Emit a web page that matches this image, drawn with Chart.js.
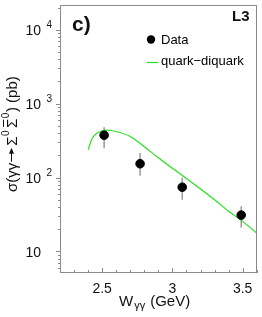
<!DOCTYPE html>
<html>
<head>
<meta charset="utf-8">
<script src="https://cdn.jsdelivr.net/npm/chart.js@4"></script>
<style>
  html, body { margin: 0; padding: 0; background: #fff; }
  canvas { display: block; }
</style>
</head>
<body>
<canvas id="sigmaChart" width="262" height="317"></canvas>
<script>
// measured points (W in GeV, sigma in pb)
const dataW = [2.514, 2.77, 3.07, 3.49];
const dataSigma = [374, 154, 74, 31];
const errLow = [250, 106, 50, 21];
const errHigh = [480, 215, 100, 41];

// quark-diquark prediction
const curveW = [2.40, 2.43, 2.47, 2.53, 2.60, 2.70, 2.80, 2.90, 3.00, 3.10, 3.20, 3.30, 3.40, 3.50, 3.60];
const curveSigma = [238, 340, 405, 440, 420, 360, 262, 185, 134, 97, 70, 50, 35, 25.5, 17.7];

// axis ticks
const xLabels = [2.5, 3, 3.5];
const yDecades = [1, 2, 3, 4];

const FONT = '"Liberation Sans", Arial, Helvetica, sans-serif';
const GREY = '#8a8a8a';
const GREEN = '#22e01e';

function font(size, bold) {
    return (bold ? 'bold ' : '') + size + 'px ' + FONT;
}

const decor = {
    id: 'decor',
    beforeDatasetsDraw(chart) {
        const ctx = chart.ctx;
        const x = chart.scales.x, y = chart.scales.y;
        ctx.save();
        ctx.strokeStyle = '#9a9a9a';
        ctx.lineWidth = 1.5;
        dataW.forEach((w, i) => {
            const px = x.getPixelForValue(w);
            ctx.beginPath();
            ctx.moveTo(px, y.getPixelForValue(errLow[i]));
            ctx.lineTo(px, y.getPixelForValue(errHigh[i]));
            ctx.stroke();
        });
        ctx.restore();
    },
    afterDraw(chart) {
        const ctx = chart.ctx;
        const a = chart.chartArea;
        const x = chart.scales.x, y = chart.scales.y;
        ctx.save();

        // frame
        ctx.strokeStyle = GREY;
        ctx.lineWidth = 1;
        ctx.strokeRect(Math.round(a.left) + 0.5, Math.round(a.top) + 0.5,
            Math.round(a.right - a.left) - 1, Math.round(a.bottom - a.top) - 1);

        // y ticks (outside), minor every 1..9 of each decade
        ctx.beginPath();
        for (let d = 0; d <= 4; d++) {
            for (let m = 1; m <= 9; m++) {
                const v = m * Math.pow(10, d);
                if (v < y.min || v > y.max) continue;
                const py = Math.round(y.getPixelForValue(v)) + 0.5;
                const len = m === 1 ? 4 : 2;
                ctx.moveTo(a.left - len, py);
                ctx.lineTo(a.left, py);
            }
        }
        // x ticks (inside)
        for (let k = 22; k <= 36; k++) {
            const v = k / 10;
            const px = Math.round(x.getPixelForValue(v)) + 0.5;
            const len = k % 5 === 0 ? 5 : 3;
            ctx.moveTo(px, a.bottom);
            ctx.lineTo(px, a.bottom - len);
        }
        ctx.stroke();

        // tick labels
        ctx.fillStyle = '#111';
        ctx.textBaseline = 'alphabetic';
        ctx.font = font(14);
        ctx.textAlign = 'center';
        xLabels.forEach(v => {
            ctx.fillText(String(v), x.getPixelForValue(v), 293);
        });
        yDecades.forEach(d => {
            const py = y.getPixelForValue(Math.pow(10, d));
            ctx.font = font(14);
            ctx.textAlign = 'right';
            ctx.fillText('10', 41, py + 5.5);
            if (d > 1) {
                ctx.font = font(10);
                ctx.textAlign = 'left';
                ctx.fillText(String(d), 46.5, py - 1.5);
            }
        });

        // x axis title: W_gamma gamma (GeV)
        ctx.textAlign = 'left';
        ctx.font = font(15);
        let cx = 119;
        ctx.fillText('W', cx, 306);
        cx += ctx.measureText('W').width + 1;
        ctx.font = font(11);
        ctx.fillText('γγ', cx, 309);
        cx += ctx.measureText('γγ').width + 5;
        ctx.font = font(15);
        ctx.fillText('(GeV)', cx, 306);

        // y axis title, rotated
        ctx.save();
        ctx.translate(17, 192);
        ctx.rotate(-Math.PI / 2);
        ctx.font = font(15);
        let tx = 0;
        ctx.fillText('σ(γγ', tx, 0);
        tx += ctx.measureText('σ(γγ').width + 1;
        // arrow
        ctx.lineWidth = 1;
        ctx.strokeStyle = '#111';
        ctx.beginPath();
        ctx.moveTo(tx, -5.5);
        ctx.lineTo(tx + 10, -5.5);
        ctx.stroke();
        ctx.beginPath();
        ctx.moveTo(tx + 14, -5.5);
        ctx.lineTo(tx + 8, -8);
        ctx.lineTo(tx + 8, -3);
        ctx.closePath();
        ctx.fill();
        tx += 16;
        ctx.fillText('Σ', tx, 0);
        tx += ctx.measureText('Σ').width;
        ctx.font = font(10);
        ctx.fillText('0', tx + 0.5, -8);
        tx += ctx.measureText('0').width + 3;
        ctx.font = font(15);
        const sw = ctx.measureText('Σ').width;
        ctx.fillText('Σ', tx, 0);
        ctx.beginPath();
        ctx.moveTo(tx + 1, -13.5);
        ctx.lineTo(tx + sw - 1, -13.5);
        ctx.stroke();
        tx += sw;
        ctx.font = font(10);
        ctx.fillText('0', tx + 0.5, -8);
        tx += ctx.measureText('0').width + 1;
        ctx.font = font(15);
        ctx.fillText(') (pb)', tx, 0);
        ctx.restore();

        // panel labels
        ctx.font = font(21, true);
        ctx.fillText('c)', 72, 31);
        ctx.font = font(15, true);
        ctx.fillText('L3', 232, 21);

        // legend
        ctx.fillStyle = '#000';
        ctx.beginPath();
        ctx.arc(151, 39.5, 4.2, 0, Math.PI * 2);
        ctx.fill();
        ctx.font = font(13);
        ctx.fillText('Data', 161, 44);
        ctx.strokeStyle = GREEN;
        ctx.lineWidth = 1.2;
        ctx.beginPath();
        ctx.moveTo(147, 62.5);
        ctx.lineTo(158.5, 62.5);
        ctx.stroke();
        ctx.fillText('quark\u2212diquark', 161, 64.5);

        ctx.restore();
    }
};

new Chart(document.getElementById('sigmaChart'), {
    type: 'scatter',
    data: {
        datasets: [
            {
                label: 'quark-diquark',
                type: 'line',
                data: curveW.map((w, i) => ({ x: w, y: curveSigma[i] })),
                borderColor: GREEN,
                borderWidth: 1.2,
                pointRadius: 0,
                cubicInterpolationMode: 'monotone',
                fill: false,
                order: 2
            },
            {
                label: 'Data',
                data: dataW.map((w, i) => ({ x: w, y: dataSigma[i] })),
                backgroundColor: '#000',
                borderColor: '#000',
                pointRadius: 4.3,
                pointHoverRadius: 4.3,
                order: 1
            }
        ]
    },
    options: {
        responsive: false,
        animation: false,
        events: [],
        layout: { padding: { top: 1, right: 1, left: 0, bottom: 0 } },
        scales: {
            x: {
                type: 'linear',
                min: 2.2,
                max: 3.6,
                grid: { display: false },
                border: { display: false },
                ticks: { display: false },
                afterFit(scale) { scale.height = 44; }
            },
            y: {
                type: 'logarithmic',
                min: 5.1,
                max: 21500,
                grid: { display: false },
                border: { display: false },
                ticks: { display: false },
                afterFit(scale) { scale.width = 60; }
            }
        },
        plugins: {
            legend: { display: false },
            tooltip: { enabled: false }
        }
    },
    plugins: [decor]
});
</script>
</body>
</html>
